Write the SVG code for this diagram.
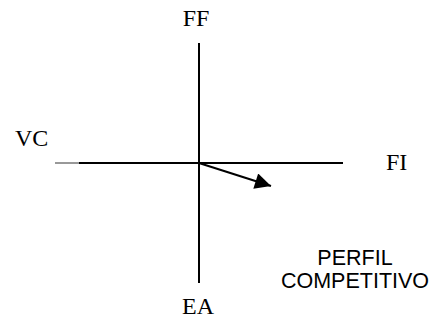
<svg xmlns="http://www.w3.org/2000/svg" width="433" height="320" viewBox="0 0 433 320">
<style>
.serif{font-family:"Liberation Serif","Times New Roman",serif;font-size:24px;fill:#000}
.sans{font-family:"Liberation Sans",Arial,sans-serif;font-size:21.5px;fill:#000}
.axis{stroke:#000;stroke-width:2;fill:none}
</style>
<defs>
<marker id="ah" viewBox="0 0 10 10" refX="10" refY="5" markerWidth="9" markerHeight="8" markerUnits="strokeWidth" orient="auto">
<path d="M0,0 L10,5 L0,10 Z" fill="#000"/>
</marker>
</defs>
<g id="connectors">
<line class="axis" x1="199" y1="43" x2="199" y2="283"/>
<line class="axis" x1="79" y1="163" x2="343" y2="163"/>
<line x1="55" y1="163" x2="79" y2="163" stroke="#333" stroke-width="1"/>
<line class="axis" x1="199" y1="163" x2="271" y2="186" marker-end="url(#ah)"/>
</g>
<g id="FF"><text class="serif" x="196" y="26" text-anchor="middle">FF</text></g>
<g id="VC"><text class="serif" x="15" y="146">VC</text></g>
<g id="FI"><text class="serif" x="386" y="170">FI</text></g>
<g id="EA"><text class="serif" x="198" y="314" text-anchor="middle">EA</text></g>
<g id="perfil"><text class="sans" x="355" text-anchor="middle"><tspan x="355" y="265">PERFIL</tspan><tspan x="355" y="288">COMPETITIVO</tspan></text></g>
</svg>
